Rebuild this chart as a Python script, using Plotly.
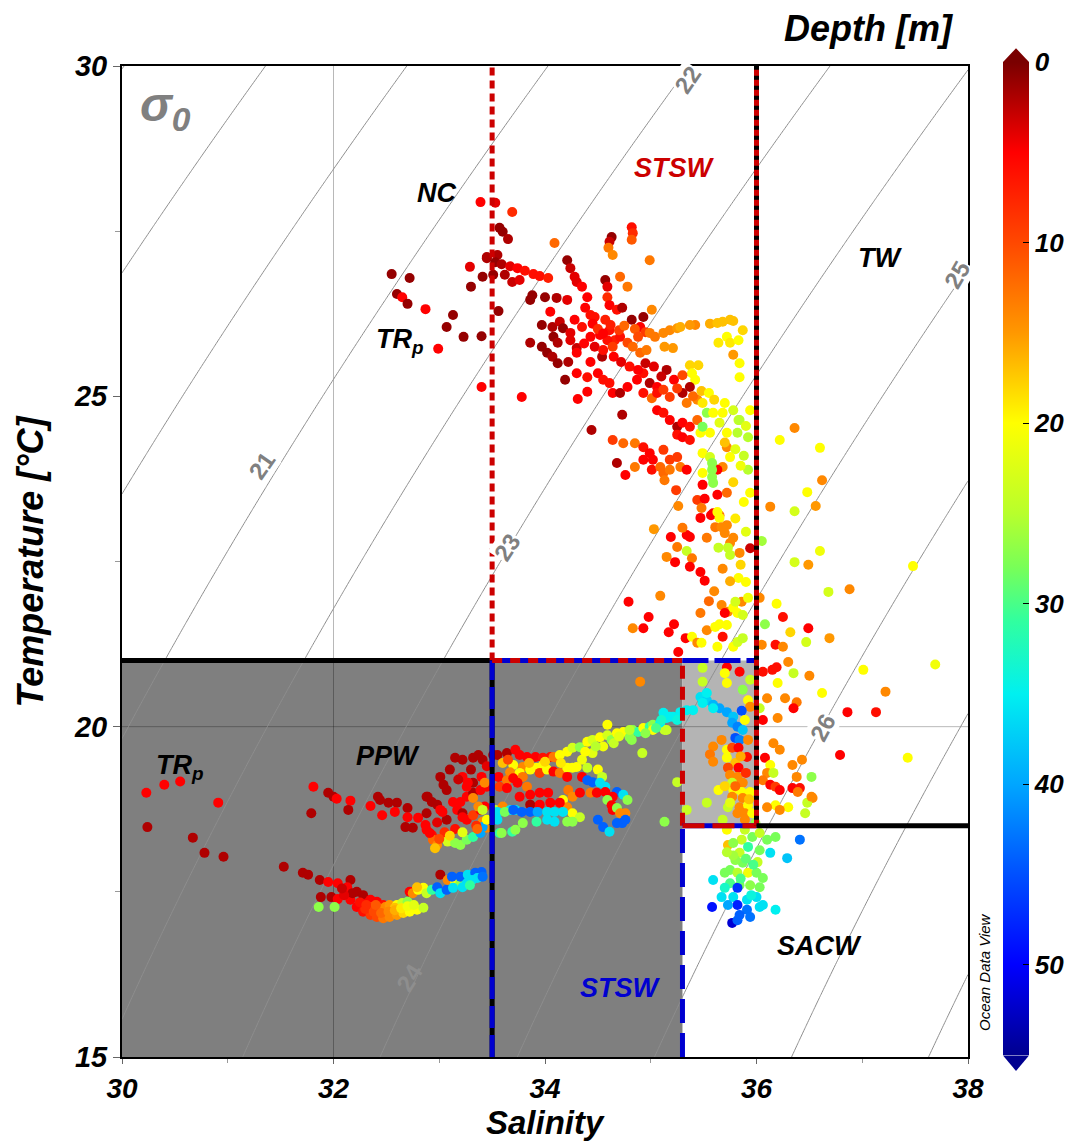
import numpy as np
import plotly.graph_objects as go

# ---------------- data: (salinity, temperature, depth[m]) ----------------
nc_trp_points = [
(33.39,27.94,5),(33.53,27.93,4),(33.69,27.79,8),(33.57,27.55,1),(33.60,27.49,1),(33.65,27.38,2),(33.45,27.09,2),(33.55,27.14,2),
(32.55,26.85,1),(32.72,26.79,1),(32.60,26.55,1),(32.65,26.50,5),(32.70,26.40,1),(32.87,26.32,5),(33.13,26.23,1),(33.07,26.05,1),
(33.23,25.90,1),(33.40,25.91,1),(33.56,26.29,1),(33.30,26.66,1),(33.29,26.96,4),(32.99,25.72,5),(33.86,25.81,2),
(33.41,26.81,1),(33.51,26.84,1),(33.40,25.14,5),(33.78,24.99,5),
]

stsw_upper_points = [
(34.09,27.32,12),(34.82,27.56,6),(34.83,27.47,8),(34.82,27.37,11),(34.63,27.41,1),(34.61,27.34,3),(34.60,27.25,13),(34.64,27.14,14),
(34.99,27.06,13),(33.45,27.11,2),(33.53,27.03,1),(33.59,27.00,2),(33.67,26.97,4),(33.74,26.94,5),(33.81,26.90,6),(33.89,26.85,6),
(33.95,26.82,6),(34.03,26.79,7),(33.62,26.84,2),(33.69,26.73,3),(33.76,26.76,4),
(34.21,27.06,1),(34.24,26.94,3),(34.28,26.81,4),(34.30,26.73,4),(34.35,26.66,5),(34.40,26.50,5),(34.38,26.34,5),
(33.88,26.53,1),(33.86,26.46,1),(34.00,26.50,1),(34.11,26.49,2),(34.21,26.46,4),(34.05,26.28,5),(33.97,26.08,1),(34.07,26.05,2),
(34.14,26.13,3),(34.17,26.03,1),(34.24,25.96,4),(34.08,25.90,1),(34.12,25.81,2),(34.24,25.85,4),(34.30,25.73,3),(33.97,25.75,1),
(34.02,25.66,1),(34.07,25.60,2),(34.12,25.50,1),(34.22,25.52,2),(34.19,25.25,1),(34.30,25.35,5),(34.40,25.29,6),(34.31,24.96,5),
(34.40,25.07,5),(34.43,26.23,6),(34.47,26.20,6),(34.57,26.16,7),(34.61,26.00,6),(34.52,25.93,5),(34.66,25.85,7),(34.43,25.90,5),
(34.57,26.76,1),(34.59,26.66,4),(34.59,26.50,8),(34.61,26.38,5),(34.68,26.31,6),(34.73,26.34,2),(34.82,26.16,1),(34.93,26.20,1),
(34.90,26.05,5),(34.95,25.97,9),(34.71,26.81,12),(34.78,26.66,13),(35.01,26.31,14),(34.59,25.85,6),(34.64,25.75,9),(34.71,25.90,6),
(34.78,25.81,10),(34.83,25.75,12),(34.90,25.66,12),(34.96,25.70,13),(34.99,25.96,13),(35.04,25.90,13),(35.12,25.96,14),(35.18,26.00,14),
(35.25,26.03,15),(35.28,26.05,16),(35.13,25.75,15),(35.21,25.73,15),(35.42,26.08,14),(35.37,26.08,15),(35.56,26.10,16),(35.63,26.11,17),
(35.68,26.13,17),(35.75,26.16,17),(35.78,26.14,17),(35.64,25.81,19),(35.72,25.90,20),(35.75,25.81,19),(35.83,25.85,20),(35.87,26.00,18),
(35.78,25.63,15),(35.84,25.50,20),(35.84,25.29,20),(35.37,25.47,18),(35.45,25.47,18),(35.39,25.35,20),(35.42,25.25,20),
(34.30,25.66,5),(34.43,25.52,5),(34.54,25.60,2),(34.50,25.35,5),(34.55,25.25,6),(34.61,25.20,6),(34.64,25.05,5),(34.71,25.05,2),
(34.78,25.14,5),(34.87,25.25,5),(34.93,25.35,6),(34.99,25.20,2),(35.06,25.14,5),(35.15,25.40,2),(34.93,25.05,6),(35.01,24.97,12),
(35.06,25.05,6),(35.12,25.10,9),(35.18,24.99,9),(35.30,25.05,2),(35.37,25.14,2),(35.34,24.90,13),(35.44,24.95,14),(35.49,24.90,19),
(35.53,24.75,27),(35.06,24.79,5),(35.12,24.75,6),(35.18,24.64,5),(35.25,24.54,2),(35.30,24.60,5),(35.37,24.54,6),(35.44,24.64,12),
(35.25,24.42,6),(35.30,24.38,5),(35.37,24.34,6),(35.47,24.45,20),(35.56,24.45,20),(35.49,24.54,28),(35.59,24.75,20),(35.68,24.75,20),
(35.78,24.79,23),(35.83,24.64,24),(35.82,24.45,25),(34.73,24.72,2),(34.44,24.49,2),(34.64,24.34,9),(34.74,24.29,12),(34.85,24.29,13),
(34.93,24.23,6),(34.99,24.14,5),(35.02,24.04,5),(35.12,24.19,9),(35.18,24.04,9),(35.25,24.08,9),(34.68,23.99,2),(34.76,23.81,5),
(34.85,23.93,13),(34.93,24.04,5),(35.01,23.89,6),(35.09,23.93,12),(35.12,23.84,12),(35.18,23.89,13),(35.28,23.93,13),(35.34,23.89,5),
(35.49,24.14,20),(35.56,24.08,23),(35.59,23.93,26),(35.49,23.84,20),(35.72,24.23,14),(35.75,24.08,20),(35.68,23.93,14),(35.63,23.89,5),
(35.92,24.38,25),(35.92,23.89,25),(35.84,24.64,25),(35.94,24.79,20),
(35.58,23.99,27),(35.58,23.89,27),(35.58,23.78,27),(35.59,23.69,27),(35.49,23.66,5),(35.63,23.51,5),(35.72,23.54,12),(35.44,23.43,9),
(35.51,23.45,5),(35.94,23.54,20),(35.59,23.23,5),(35.65,23.20,13),(35.47,23.16,5),(35.24,23.58,9),(35.26,23.34,14),(35.13,23.73,13),
(35.48,23.31,13),(35.57,23.20,5),(35.63,23.25,20),(35.65,23.16,20),(35.61,23.02,13),(35.67,23.02,14),(35.72,23.05,14),(35.53,22.86,13),
(35.70,22.93,14),(35.78,22.86,14),(35.75,22.78,14),(35.64,22.71,24),(35.73,22.71,24),(35.75,22.60,24),(35.84,22.63,14),(35.34,22.90,5),
(35.37,22.87,5),(35.30,23.01,13),(35.19,22.87,5),(35.25,22.72,13),(35.15,22.57,14),(35.23,22.49,5),(35.34,22.66,24),(35.39,22.55,13),
(35.37,22.42,5),(35.47,22.34,5),(35.51,22.21,5),(35.03,22.99,15),(35.09,21.98,14),(34.79,21.89,5),(34.83,21.49,14),(34.93,21.49,5),
(34.98,21.66,5),(35.17,21.43,5),(35.22,21.55,5),(35.33,21.34,5),(35.26,21.13,5),(35.47,21.72,13),(35.39,21.36,20),(35.44,21.27,14),
(35.48,21.27,20),(35.53,21.46,14),(35.61,21.51,20),(35.65,21.55,20),(35.68,21.36,6),(35.72,21.54,20),(35.63,21.21,20),(35.78,21.21,20),
(35.82,21.28,23),(35.87,21.34,24),(35.73,21.74,14),(35.78,21.80,20),(35.82,21.72,20),(35.86,21.89,14),(35.87,21.69,23),(35.80,21.89,23),
(35.67,21.84,14),(35.70,21.72,5),(35.68,22.39,14),(35.83,22.25,20),(35.90,22.19,20),(35.94,22.70,3),
(34.28,26.16,5),(34.35,26.05,6),(34.45,26.10,5),(34.50,26.02,8),(34.55,25.95,5),(34.62,26.08,7),(34.70,26.00,9),(34.75,26.07,12),
(34.85,26.02,11),(34.88,25.90,10),(34.37,25.80,5),(34.47,25.75,4),(34.55,25.70,6),(34.65,25.60,5),(34.72,25.52,4),(34.80,25.45,6),
(34.88,25.40,5),(34.95,25.50,3),(35.03,25.45,4),(35.10,25.30,3),(35.22,25.25,5),(35.25,25.12,9),(35.30,25.32,10),(35.40,25.00,12),
(35.48,25.08,17),(35.55,25.05,20),(35.60,24.95,18),(35.70,24.90,20),(35.65,24.60,22),(35.72,24.45,20),(35.90,24.55,22),(35.88,24.10,24),
(35.70,24.30,17),(35.80,24.20,22),(35.85,23.95,21),(35.78,23.70,18),(35.88,23.40,20),(35.80,23.15,19),(35.90,22.95,22),(35.85,22.45,18),
(35.75,22.20,16),(35.92,21.95,21),(35.60,22.05,14),(35.55,21.90,12),
]

tw_points = [
(36.36,24.52,14),(36.22,24.34,20),(36.60,24.22,20),(36.62,23.73,14),(36.48,23.55,20),(36.13,23.33,14),(36.36,23.26,23),(36.56,23.34,15),
(36.60,22.66,21),(36.36,22.49,23),(36.49,22.45,15),(37.48,22.43,20),(36.05,22.81,26),(36.88,22.08,14),(36.68,22.04,23),(36.25,21.66,6),
(36.19,21.86,20),(36.32,21.43,18),(36.49,21.49,5),(36.47,21.28,23),(36.69,21.34,15),(36.18,21.24,6),(36.25,21.21,14),(36.08,21.55,27),
(36.03,21.95,14),(36.30,20.98,14),(36.35,20.81,24),(36.50,20.77,14),(36.06,20.83,6),(36.15,20.86,6),(36.19,20.90,6),(36.20,20.66,20),
(37.01,20.86,20),(37.69,20.94,21),(37.22,20.53,14),(36.62,20.51,20),(36.05,21.24,14),(36.10,20.43,14),(36.27,20.43,14),(36.38,20.37,13),
(36.35,20.28,5),(36.03,20.28,24),(36.06,20.10,5),(36.20,20.13,14),(36.16,19.75,14),(36.22,19.65,14),(36.08,19.53,5),(36.13,19.42,20),
(36.10,19.30,14),(36.16,19.30,24),(36.06,19.19,13),(36.13,19.12,5),(36.18,19.09,9),(36.22,19.04,5),(36.34,19.07,5),(36.41,19.07,6),
(36.39,19.01,13),(36.53,18.92,14),(36.48,18.85,24),(36.79,19.57,5),(36.86,20.22,5),(36.52,19.24,27),(36.43,19.50,14),(36.34,19.42,14),
(36.38,19.24,14),(36.30,18.78,20),(36.46,18.69,24),(36.52,18.94,14),(36.18,18.81,20),(36.22,18.74,14),(36.10,18.78,14),(37.13,20.22,6),
(37.43,19.53,20),
]

light_box_points = [
(35.49,20.89,24),(35.72,20.90,5),(35.84,20.83,5),(35.70,20.81,20),(35.94,20.71,24),(35.87,20.56,27),(35.72,20.66,20),(35.92,20.40,20),
(35.94,20.30,14),(35.12,20.21,35),(35.18,20.15,35),(35.28,20.22,35),(35.34,20.25,35),(35.47,20.45,36),(35.53,20.40,37),(35.59,20.33,39),
(35.65,20.28,40),(35.72,20.22,40),(35.78,20.15,38),(35.86,20.24,45),(35.77,20.06,40),(35.82,20.00,42),(35.87,19.95,38),(35.80,19.83,45),
(35.84,19.80,42),(35.40,20.25,35),(35.49,20.36,35),(35.53,20.51,35),(35.59,20.28,35),(35.59,19.70,14),(35.56,19.58,13),(35.59,19.47,14),
(35.72,19.65,20),(35.77,19.68,10),(35.83,19.68,5),(35.91,19.54,6),(35.72,19.53,20),(35.80,19.45,17),(35.73,19.38,10),(35.83,19.38,5),
(35.75,19.27,14),(35.82,19.24,14),(35.77,19.15,24),(35.87,19.15,14),(35.78,19.04,20),(35.86,19.01,20),(35.94,19.01,20),(35.77,18.94,14),
(35.87,18.92,14),(35.53,18.85,24),(35.73,18.78,24),(35.84,18.78,14),(35.92,18.81,20),(35.82,18.69,14),(35.89,18.69,14),(35.96,18.69,20),
(35.34,18.74,24),(35.13,18.56,27),(35.13,19.95,24),(35.25,19.16,24),(34.90,20.68,14),(35.49,20.68,24),(35.89,20.10,20),(35.92,19.80,14),
(35.67,19.80,14),(35.64,19.04,20),(35.68,18.59,24),(35.89,18.59,14),
(35.70,19.10,18),(35.80,19.10,12),(35.90,19.30,8),(35.85,19.55,16),(35.75,18.85,22),(35.93,18.90,17),
]

sacw_points = [
(35.73,18.21,17),(35.86,18.29,24),(35.96,18.33,28),(36.03,18.39,24),(35.92,18.18,31),(35.84,18.09,24),(36.03,18.13,28),(36.10,18.29,28),
(36.18,18.33,28),(36.41,18.29,43),(36.29,18.01,38),(36.13,18.09,36),(36.01,17.95,24),(35.87,17.94,28),(35.75,17.83,28),(35.70,17.79,28),
(35.82,17.79,25),(35.92,17.79,21),(36.00,17.79,28),(36.06,17.71,28),(36.03,17.57,28),(35.94,17.60,27),(35.84,17.60,28),(35.75,17.63,30),
(35.70,17.56,33),(35.82,17.56,47),(35.59,17.68,36),(35.58,17.27,49),(35.67,17.42,36),(35.78,17.42,36),(35.82,17.30,48),(35.91,17.38,36),
(36.00,17.42,36),(36.06,17.30,36),(36.18,17.23,35),(35.91,17.23,43),(35.84,17.15,44),(35.77,17.03,52),(35.82,17.07,44),(35.94,17.12,43),
(36.03,17.27,36),(35.78,18.24,27),(35.72,18.44,20),(35.89,18.44,24),(35.99,18.54,27),(35.80,17.98,27),(35.97,17.91,30),
(35.78,18.05,26),(35.90,18.00,29),(35.72,18.10,25),(35.85,17.70,30),(35.95,17.45,34),(35.73,17.30,40),
]

ppw_upper_points = [
(31.81,19.09,5),(31.79,18.69,2),(31.95,19.00,2),(32.00,18.94,2),(32.03,18.91,5),(32.16,18.88,5),(32.14,18.74,2),(32.35,18.80,5),
(32.42,18.94,2),(32.44,18.89,2),(32.46,18.66,5),(32.52,18.85,2),(32.60,18.85,2),(32.58,18.71,5),(32.70,18.77,2),(32.70,18.63,5),
(32.80,18.62,5),(32.88,18.69,2),(32.68,18.48,2),(32.75,18.47,2),(32.89,18.94,2),(32.93,18.86,2),(32.98,18.82,2),(33.01,19.24,2),
(33.04,19.12,2),(33.07,19.04,2),(33.15,19.53,2),(33.22,19.50,2),(33.32,19.53,2),(33.37,19.57,2),(33.41,19.50,2),(33.51,19.57,2),
(33.13,18.86,5),(33.17,18.74,5),(33.22,18.69,2),(33.26,18.59,5),(33.07,18.59,2),(33.03,18.71,5),(32.87,18.51,5),(32.88,18.44,5),
(32.93,18.36,6),(32.94,18.29,12),(32.98,18.21,14),(32.96,18.16,17),(33.04,18.32,20),(33.08,18.26,23),(33.15,18.24,27),(33.20,18.21,27),
(33.26,18.29,28),(33.32,18.33,31),(33.39,18.39,40),(33.45,18.47,14),(33.41,18.56,14),(33.32,18.66,9),(33.39,18.74,5),(33.43,18.79,5),
(33.26,18.94,5),(33.32,19.00,2),(33.39,19.04,5),(33.45,19.09,5),(33.26,19.09,5),(33.32,19.15,2),(33.40,19.24,5),(33.53,18.74,24),
(33.60,18.79,14),(33.67,18.74,36),(33.72,18.74,36),(33.48,18.59,44),(33.55,18.59,36),(33.57,18.39,31),(33.69,18.41,31),(33.22,19.24,5),
(33.27,19.15,5),(33.43,19.15,14),(32.88,18.94,2),(33.01,18.74,5),(33.20,18.86,5),(33.32,18.92,14),(33.22,18.63,5),(33.37,18.79,14),
(33.41,18.74,24),(32.91,18.39,5),(33.41,18.48,40),(33.45,18.59,20),
(33.10,19.35,2),(33.18,19.20,3),(33.30,19.35,2),(33.45,19.40,4),(33.35,18.50,8),(33.15,18.45,6),(33.05,18.40,8),(32.98,18.55,4),
(33.00,18.30,10),(33.10,18.35,18),(33.22,18.40,22),(33.36,18.45,12),
]

mid_box_points = [
(33.55,19.57,2),(33.64,19.60,2),(33.72,19.65,5),(33.76,19.57,5),(33.83,19.54,5),(33.91,19.54,5),(33.98,19.53,6),(34.05,19.54,6),
(34.11,19.53,12),(33.60,19.45,17),(33.70,19.42,20),(33.79,19.39,14),(33.67,19.31,14),(33.76,19.30,20),(33.86,19.35,20),(33.92,19.38,20),
(33.98,19.42,20),(33.95,19.30,9),(34.02,19.35,20),(34.08,19.32,5),(34.14,19.30,13),(34.21,19.38,20),(34.26,19.38,20),(34.30,19.39,20),
(33.56,19.24,5),(33.64,19.19,13),(33.70,19.22,5),(33.79,19.24,13),(33.57,19.09,9),(33.64,19.07,5),(33.74,19.15,5),(33.83,19.09,13),
(34.08,19.54,13),(34.14,19.57,20),(34.21,19.62,20),(34.26,19.68,23),(34.33,19.69,27),(34.40,19.77,20),(34.45,19.80,23),(34.52,19.84,20),
(34.59,19.87,23),(34.63,19.80,27),(34.68,19.90,20),(34.74,19.92,20),(34.80,19.84,27),(34.83,19.95,27),(34.88,19.92,31),(34.93,19.98,20),
(34.99,20.00,31),(35.02,20.03,27),(35.09,20.06,35),(35.15,20.13,35),(35.21,20.15,35),(35.28,20.18,35),(34.59,20.03,20),(35.15,19.95,24),
(35.02,19.95,20),(34.92,19.60,24),(34.82,19.80,27),(34.40,19.38,24),(34.50,19.35,20),(34.54,19.24,24),
(34.21,19.24,5),(34.22,19.04,13),(34.26,18.94,14),(34.17,18.89,20),(34.21,18.78,14),(34.26,18.69,20),(34.33,18.63,24),(34.35,19.24,5),
(34.40,19.19,44),(34.45,19.16,44),(34.52,19.15,36),(34.57,19.09,36),(34.68,19.01,44),(34.74,18.97,36),(34.78,18.89,27),(34.33,19.00,5),
(34.43,19.00,13),(34.49,19.00,5),(34.57,19.01,5),(34.64,18.94,5),(34.59,18.89,27),(34.63,18.81,5),(34.64,18.74,5),(34.68,18.77,27),
(34.71,18.69,14),(34.76,18.69,14),(34.50,18.59,44),(34.55,18.48,44),(34.61,18.41,36),(34.68,18.54,44),(34.73,18.54,44),(34.76,18.59,44),
(33.76,18.94,5),(33.86,18.97,5),(33.95,19.00,5),(34.03,19.00,5),(33.86,18.82,2),(33.95,18.82,5),(34.05,18.85,5),(34.14,18.85,5),
(33.55,18.71,36),(33.62,18.71,28),(33.70,18.74,44),(33.78,18.71,44),(33.86,18.71,44),(33.93,18.71,40),(34.02,18.71,36),(34.09,18.71,36),
(34.17,18.71,36),(33.92,18.56,31),(34.02,18.59,36),(34.09,18.56,36),(34.21,18.56,27),(34.26,18.56,27),(33.59,18.39,27),(33.72,18.44,27),
(33.79,18.54,27),
(33.65,19.50,10),(33.85,19.45,16),(34.00,19.47,18),(34.15,19.45,19),(34.35,19.50,21),(34.45,19.60,22),(34.55,19.70,21),(34.65,19.75,24),
(34.70,19.85,22),(34.80,19.95,25),(34.95,19.90,27),(35.05,19.98,30),(35.10,20.10,33),(35.25,20.10,34),(34.38,19.62,20),(34.48,19.70,25),
]

ppw_lower_points = [
(30.23,19.00,5),(30.40,19.12,5),(30.55,19.17,5),(30.91,18.85,5),(30.24,18.48,2),(30.67,18.32,2),(30.78,18.09,2),(30.96,18.03,2),
(31.53,17.88,2),(31.71,17.79,2),(31.76,17.76,2),(31.87,17.68,2),(31.95,17.65,5),(32.04,17.63,5),(31.88,17.42,2),(31.98,17.42,2),
(32.04,17.39,5),(31.86,17.27,27),(32.01,17.27,27),(32.16,17.68,2),(32.13,17.57,5),(32.22,17.50,2),(32.28,17.45,2),(32.35,17.38,5),
(32.41,17.35,5),(32.47,17.30,6),(32.16,17.38,5),(32.22,17.27,5),(32.28,17.20,6),(32.35,17.15,9),(32.41,17.12,10),(32.47,17.10,13),
(32.53,17.12,14),(32.60,17.15,15),(32.66,17.18,18),(32.72,17.20,20),(32.79,17.23,20),(32.85,17.26,24),(32.18,17.48,2),(32.32,17.33,5),
(32.36,17.27,10),(32.42,17.26,13),(32.49,17.27,14),(32.53,17.30,15),(32.60,17.30,20),(32.65,17.33,24),(32.70,17.35,27),(32.72,17.50,5),
(32.75,17.48,14),(32.80,17.53,20),(32.85,17.56,20),(32.79,17.57,17),(32.88,17.48,24),(32.93,17.53,31),(32.98,17.57,44),(33.01,17.48,36),
(33.07,17.53,44),(33.01,17.76,2),(33.08,17.68,14),(33.15,17.65,20),(33.20,17.63,27),(33.12,17.73,44),(33.20,17.73,44),(33.27,17.76,36),
(33.34,17.79,44),(33.40,17.80,44),(33.22,17.57,36),(33.26,17.63,36),(33.31,17.68,36),(33.36,17.71,36),(33.41,17.73,43),(33.13,17.56,36),
(33.29,17.60,31),(32.58,17.26,17),
(32.30,17.24,8),(32.38,17.20,10),(32.45,17.18,12),(32.52,17.20,14),(32.58,17.22,16),(32.64,17.25,19),(32.70,17.28,21),(32.76,17.30,22),
(32.25,17.34,6),(32.31,17.30,8),(32.40,17.30,11),(32.10,17.45,4),(32.08,17.55,3),
]

groups = [nc_trp_points, stsw_upper_points, tw_points, light_box_points,
          sacw_points, ppw_upper_points, mid_box_points, ppw_lower_points]
all_pts = [p for g in groups for p in g]
sal = [p[0] for p in all_pts]
temp = [p[1] for p in all_pts]
depth = [p[2] for p in all_pts]

depth_ticks = [0, 10, 20, 30, 40, 50]
sal_ticks = [30, 32, 34, 36, 38]
temp_ticks = [15, 20, 25, 30]
sigma_levels = [21, 22, 23, 24, 25, 26]

# ---------------- density (sigma-0, UNESCO 1980, p=0) ----------------
def sigma0(S, T):
    rw = (999.842594 + 6.793952e-2*T - 9.095290e-3*T**2 + 1.001685e-4*T**3
          - 1.120083e-6*T**4 + 6.536332e-9*T**5)
    A = 8.24493e-1 - 4.0899e-3*T + 7.6438e-5*T**2 - 8.2467e-7*T**3 + 5.3875e-9*T**4
    B = -5.72466e-3 + 1.0227e-4*T - 1.6546e-6*T**2
    C = 4.8314e-4
    return rw + A*S + B*S**1.5 + C*S**2 - 1000.0

gs = np.linspace(30, 38, 241)
gt = np.linspace(15, 30, 301)
SS, TT = np.meshgrid(gs, gt)
ZZ = sigma0(SS, TT)

# ---------------- colorscale (depth -> colour) ----------------
cs_depth = [(0, '#7a0000'), (5, '#ff0000'), (10, '#ff4800'), (15, '#ff9800'), (20, '#ffff00'),
            (25, '#b8ff2c'), (28, '#78ff58'), (31, '#30ffa0'), (35, '#00f0f0'), (40, '#00a6ff'),
            (45, '#0050ff'), (50, '#0000ff'), (55, '#000090')]
DMAX = 55.0
colorscale = sorted([[1 - d/DMAX, c] for d, c in cs_depth])

FONT = 'Liberation Sans, Arial, sans-serif'

# page body has an 8px margin: figure is placed at (8, 8) in the window
W, H = 1065, 1135
ML, MT, MR, MB = 114, 58, 105, 86   # plot area: x 122..968, y 66..1057 in window

fig = go.Figure()
fig.add_trace(go.Contour(x=gs, y=gt, z=ZZ, showscale=False, hoverinfo='skip',
                         contours=dict(start=17, end=28, size=1, coloring='none'),
                         line=dict(color='#8e8e8e', width=1)))

fig.add_trace(go.Scatter(
    x=sal, y=temp, mode='markers', hoverinfo='skip',
    marker=dict(size=10, color=[-d for d in depth], colorscale=colorscale, cmin=-DMAX, cmax=0,
                line=dict(width=0),
                colorbar=dict(x=1.0414, xanchor='left', xpad=0, ypad=0, thickness=26,
                              lenmode='pixels', len=993, y=1.004, yanchor='top',
                              outlinewidth=0, tickvals=[-d for d in depth_ticks],
                              ticktext=[str(d) for d in depth_ticks], ticks='inside', ticklen=6,
                              tickcolor='black',
                              tickfont=dict(family=FONT, size=26, color='black', weight='bold', style='italic'))),
    showlegend=False))

shapes = []
shapes.append(dict(type='rect', xref='x', yref='y', x0=30, x1=35.3, y0=15, y1=21,
                   fillcolor='#7f7f7f', line=dict(width=0), layer='below'))
shapes.append(dict(type='rect', xref='x', yref='y', x0=35.3, x1=36, y0=18.5, y1=21,
                   fillcolor='#b4b4b4', line=dict(width=0), layer='below'))
shapes.append(dict(type='line', xref='x', yref='y', x0=32, x1=32, y0=15, y1=30,
                   line=dict(color='rgba(0,0,0,0.28)', width=1), layer='below'))
shapes.append(dict(type='line', xref='x', yref='y', x0=30, x1=38, y0=20, y1=20,
                   line=dict(color='rgba(0,0,0,0.28)', width=1), layer='below'))

RED = '#cc0000'
BLUE = '#0000d0'
def seg(x0, y0, x1, y1, color, width=5, dash='solid'):
    shapes.append(dict(type='line', xref='x', yref='y', x0=x0, y0=y0, x1=x1, y1=y1,
                       line=dict(color=color, width=width, dash=dash), layer='above'))

seg(30, 21, 33.5, 21, 'black')
seg(33.5, 21, 33.5, 30, RED, 5, '8px,5px')
seg(33.5, 15, 33.5, 21, 'black')
seg(33.5, 15, 33.5, 21, BLUE, 5, '22px,7px')
seg(33.5, 21, 35.3, 21, BLUE)
seg(33.5, 21, 35.3, 21, RED, 5, '10px,8px')
seg(35.3, 21, 36, 21, BLUE, 5, '26px,6px')
seg(35.3, 18.5, 35.3, 21, RED, 5, '13px,8px')
seg(35.3, 15, 35.3, 18.5, BLUE, 5, '24px,10px')
seg(35.3, 18.5, 36, 18.5, BLUE)
seg(35.3, 18.5, 36, 18.5, RED, 5, '22px,8px')
seg(36, 18.5, 36, 30, 'black')
seg(36, 18.5, 36, 30, RED, 5, '6px,4px')
seg(36, 18.5, 38, 18.5, 'black')

cx0, cx1 = 1.0414, 1.0721
cxm = (cx0 + cx1) / 2
shapes.append(dict(type='path', xref='paper', yref='paper',
                   path=f'M {cx0},1.004 L {cxm},1.018 L {cx1},1.004 Z',
                   fillcolor='#7a0000', line=dict(width=0)))
shapes.append(dict(type='path', xref='paper', yref='paper',
                   path=f'M {cx0},0.0015 L {cxm},-0.0141 L {cx1},0.0015 Z',
                   fillcolor='#000090', line=dict(width=0)))

ann = []
def label(x, y, text, color='black', size=27):
    ann.append(dict(x=x, y=y, xref='x', yref='y', text=f'<b><i>{text}</i></b>', showarrow=False,
                    xanchor='center', yanchor='middle',
                    font=dict(family=FONT, size=size, color=color)))

label(30.41, 29.36, 'σ<sub>0</sub>', color='#808080', size=48)
label(32.97, 28.08, 'NC')
label(32.63, 25.84, 'TR<sub>p</sub>')
label(35.22, 28.46, 'STSW', color=RED)
label(37.17, 27.09, 'TW')
label(30.55, 19.39, 'TR<sub>p</sub>')
label(32.52, 19.56, 'PPW')
label(34.71, 16.04, 'STSW', color=BLUE)
label(36.60, 16.68, 'SACW')

lab_pos = [(31.32, 23.96, -55, 'white', '#808080'),
           (35.35, 29.80, -56, 'white', '#808080'),
           (33.65, 22.72, -57, 'white', '#808080'),
           (32.72, 16.20, -58, 'rgba(0,0,0,0)', '#8e8e8e'),
           (37.90, 26.84, -60, 'white', '#808080'),
           (36.63, 19.98, -62, 'white', '#808080')]
for lv, (x, y, ang, bg, col) in zip(sigma_levels, lab_pos):
    ann.append(dict(x=x, y=y, xref='x', yref='y', text=f'<b>{lv}</b>', showarrow=False,
                    textangle=ang, bgcolor=bg, borderpad=0,
                    font=dict(family=FONT, size=24, color=col)))

ann.append(dict(x=0.5, y=0, xref='paper', yref='paper', xanchor='center', yanchor='middle', yshift=-65,
                text='<b><i>Salinity</i></b>', showarrow=False,
                font=dict(family=FONT, size=33, color='black')))
ann.append(dict(x=0, y=0.5, xref='paper', yref='paper', xanchor='center', yanchor='middle', xshift=-92,
                text='<b><i>Temperature [°C]</i></b>', showarrow=False, textangle=-90,
                font=dict(family=FONT, size=36, color='black')))
ann.append(dict(x=(868-122)/846, y=1, xref='paper', yref='paper', xanchor='center', yanchor='middle', yshift=38,
                text='<b><i>Depth [m]</i></b>', showarrow=False,
                font=dict(family=FONT, size=36, color='black')))
ann.append(dict(x=(984-122)/846, y=(1057-972)/991, xref='paper', yref='paper',
                xanchor='center', yanchor='middle',
                text='<i>Ocean Data View</i>', showarrow=False, textangle=-90,
                font=dict(family=FONT, size=15, color='black')))

fig.update_layout(
    width=W, height=H, margin=dict(l=ML, r=MR, t=MT, b=MB, autoexpand=False),
    plot_bgcolor='white', paper_bgcolor='white', showlegend=False,
    shapes=shapes, annotations=ann,
    xaxis=dict(range=[30, 38], tickvals=sal_ticks, showgrid=False, zeroline=False,
               showline=True, linecolor='black', linewidth=2, mirror=True,
               ticks='outside', ticklen=5, tickcolor='#666', tickwidth=1,
               minor=dict(tickvals=[31, 33, 35, 37], ticks='outside', ticklen=4, tickcolor='#999'),
               tickfont=dict(family=FONT, size=28, color='black', weight='bold', style='italic')),
    yaxis=dict(range=[15, 30], tickvals=temp_ticks, showgrid=False, zeroline=False,
               showline=True, linecolor='black', linewidth=2, mirror=True,
               ticks='outside', ticklen=7, tickcolor='#666', tickwidth=1,
               minor=dict(tickvals=[17.5, 22.5, 27.5], ticks='outside', ticklen=5, tickcolor='#999'),
               tickfont=dict(family=FONT, size=29, color='black', weight='bold', style='italic')),
)

fig.write_html('out.html')
